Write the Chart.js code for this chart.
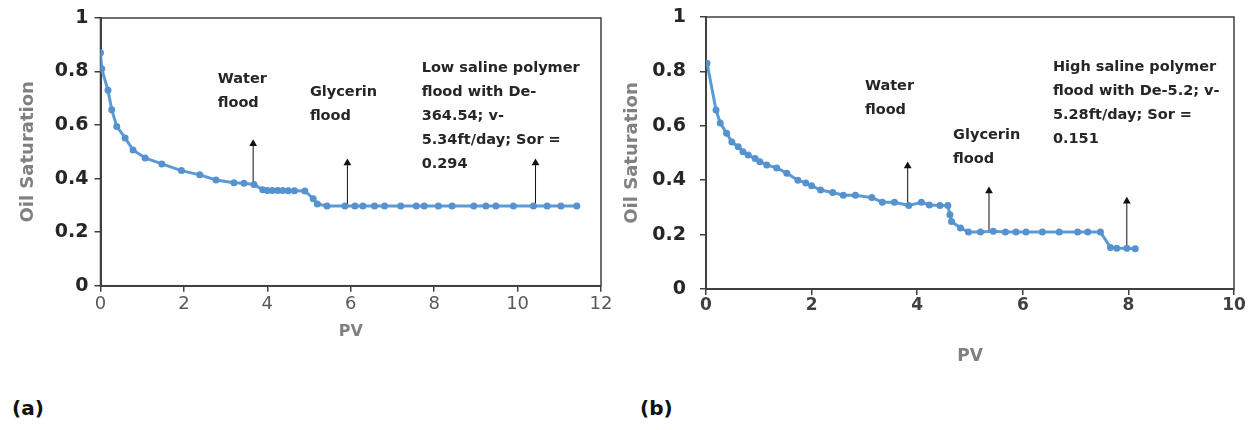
<!DOCTYPE html>
<html>
<head>
<meta charset="utf-8">
<script src="https://cdn.jsdelivr.net/npm/chart.js@4.4.1/dist/chart.umd.min.js"></script>
<style>
  body { margin: 0; width: 1256px; height: 430px; background: #fff; position: relative; overflow: hidden; }
  .box { position: absolute; top: 0; }
  #wrapA { left: 0; width: 615px; height: 350px; }
  #wrapB { left: 610px; width: 640px; height: 370px; }
  .tag { position: absolute; top: 396px; font: bold 20px "DejaVu Sans", sans-serif; color: #111; }
</style>
</head>
<body>
<div class="box" id="wrapA"><canvas id="chartA"></canvas></div>
<div class="box" id="wrapB"><canvas id="chartB"></canvas></div>
<div class="tag" style="left:12px">(a)</div>
<div class="tag" style="left:640px">(b)</div>
<script>
// tick values / labels
const yTickValues = [0, 0.2, 0.4, 0.6, 0.8, 1];
const yTickLabels = ['0', '0.2', '0.4', '0.6', '0.8', '1'];
const xTickValuesA = [0, 2, 4, 6, 8, 10, 12];
const xTickValuesB = [0, 2, 4, 6, 8, 10];

// (a) low saline polymer flood
const pvA = [0, 0.03, 0.18, 0.27, 0.39, 0.59, 0.78, 1.07, 1.47, 1.94, 2.38, 2.77, 3.2, 3.44, 3.68,
  3.89, 4.0, 4.12, 4.25, 4.37, 4.5, 4.65, 4.9, 5.1, 5.2, 5.43, 5.86, 6.1, 6.29, 6.57, 6.81,
  7.2, 7.57, 7.76, 8.1, 8.43, 8.95, 9.24, 9.48, 9.9, 10.38, 10.71, 11.04, 11.42];
const soA = [0.87, 0.81, 0.73, 0.657, 0.595, 0.552, 0.507, 0.477, 0.455, 0.43, 0.414, 0.395, 0.385, 0.383, 0.378,
  0.358, 0.356, 0.356, 0.356, 0.356, 0.355, 0.355, 0.354, 0.325, 0.305, 0.298, 0.298, 0.298, 0.298, 0.298, 0.298,
  0.298, 0.298, 0.298, 0.298, 0.298, 0.298, 0.298, 0.298, 0.298, 0.298, 0.298, 0.298, 0.298];

// (b) high saline polymer flood
const pvB = [0.02, 0.19, 0.27, 0.39, 0.49, 0.61, 0.70, 0.80, 0.93, 1.02, 1.15, 1.34, 1.53, 1.74, 1.89,
  2.0, 2.17, 2.4, 2.6, 2.83, 3.14, 3.34, 3.57, 3.84, 4.08, 4.23, 4.43, 4.58, 4.62, 4.65, 4.82,
  4.97, 5.2, 5.44, 5.67, 5.87, 6.06, 6.37, 6.69, 7.04, 7.23, 7.47, 7.66, 7.78, 7.97, 8.13];
const soB = [0.83, 0.658, 0.61, 0.573, 0.54, 0.523, 0.505, 0.493, 0.48, 0.468, 0.456, 0.445, 0.426, 0.40, 0.39,
  0.38, 0.364, 0.355, 0.345, 0.345, 0.336, 0.319, 0.319, 0.307, 0.319, 0.309, 0.307, 0.307, 0.273, 0.248, 0.224,
  0.21, 0.21, 0.212, 0.21, 0.21, 0.21, 0.21, 0.21, 0.21, 0.21, 0.21, 0.153, 0.15, 0.15, 0.148];

// arrows (PV, saturation at base, saturation at head)
const arrowPvA = [3.66, 5.92, 10.43];
const arrowFromA = [0.377, 0.298, 0.298];
const arrowToA = [0.53, 0.458, 0.458];
const arrowPvB = [3.82, 5.36, 7.97];
const arrowFromB = [0.31, 0.212, 0.15];
const arrowToB = [0.452, 0.36, 0.323];

const notesA = [
  { pv: 2.81, so: 0.773, lines: ['Water', 'flood'] },
  { pv: 5.02, so: 0.724, lines: ['Glycerin', 'flood'] },
  { pv: 7.70, so: 0.814, lines: ['Low saline polymer', 'flood with De-', '364.54; v-', '5.34ft/day; Sor =', '0.294'] }
];
const notesB = [
  { pv: 3.01, so: 0.746, lines: ['Water', 'flood'] },
  { pv: 4.68, so: 0.566, lines: ['Glycerin', 'flood'] },
  { pv: 6.57, so: 0.816, lines: ['High saline polymer', 'flood with De-5.2; v-', '5.28ft/day; Sor =', '0.151'] }
];

const framePlugin = {
  id: 'frame',
  beforeDatasetsDraw(chart) {
    const { ctx, chartArea: a } = chart;
    ctx.save();
    ctx.strokeStyle = '#404040';
    ctx.lineWidth = 1.5;
    ctx.strokeRect(a.left, a.top, a.right - a.left, a.bottom - a.top);
    ctx.restore();
  }
};

function notesPlugin(notes) {
  return {
    id: 'notes',
    afterDatasetsDraw(chart) {
      const { ctx, scales: { x, y } } = chart;
      ctx.save();
      ctx.font = 'bold 14.5px "DejaVu Sans"';
      ctx.fillStyle = '#262626';
      ctx.textBaseline = 'middle';
      notes.forEach(n => {
        const px = x.getPixelForValue(n.pv), py = y.getPixelForValue(n.so);
        n.lines.forEach((t, i) => ctx.fillText(t, px, py + i * 24));
      });
      ctx.restore();
    }
  };
}

// keep chart area where we put it: no extra room for edge labels
function noEdgePad(sc) {
  sc.paddingTop = 0; sc.paddingBottom = 0; sc.paddingLeft = 0; sc.paddingRight = 0;
}

function makeChart(id, s) {
  const datasets = [{
    data: s.pv.map((v, i) => ({ x: v, y: s.so[i] })),
    showLine: true,
    borderColor: '#5B9BD5',
    borderWidth: 3,
    pointRadius: 3.5,
    pointBackgroundColor: '#5592CF',
    pointBorderWidth: 0
  }];
  s.arrowPv.forEach((v, i) => {
    datasets.push({
      data: [{ x: v, y: s.arrowFrom[i] }, { x: v, y: s.arrowTo[i] }],
      showLine: true,
      borderColor: '#111',
      borderWidth: 1,
      pointStyle: 'triangle',
      pointRadius: [0, 4.5],
      pointBackgroundColor: '#111',
      pointBorderWidth: 0
    });
  });

  return new Chart(document.getElementById(id), {
    type: 'scatter',
    data: { datasets },
    plugins: [framePlugin, notesPlugin(s.notes)],
    options: {
      responsive: true,
      maintainAspectRatio: false,
      animation: false,
      layout: { padding: s.pad },
      plugins: { legend: { display: false }, tooltip: { enabled: false } },
      scales: {
        x: {
          type: 'linear', min: 0, max: s.xMax,
          afterBuildTicks: sc => { sc.ticks = s.xTicks.map(v => ({ value: v })); },
          afterFit: sc => { sc.height = s.xAxisH; noEdgePad(sc); },
          grid: { display: true, drawOnChartArea: false, tickLength: 6, color: '#404040', lineWidth: 1.5 },
          border: { display: true, color: '#404040', width: 2 },
          ticks: {
            color: s.xTickColor, padding: s.xTickPad,
            font: { family: 'DejaVu Sans', size: s.xTickSize, weight: s.xTickWeight },
            callback: v => String(v)
          },
          title: {
            display: true, text: 'PV', color: '#808080',
            font: { family: 'DejaVu Sans', size: s.xTitleSize, weight: 'bold' },
            padding: { top: 0, bottom: s.xTitlePad }
          }
        },
        y: {
          type: 'linear', min: 0, max: 1,
          afterBuildTicks: sc => { sc.ticks = yTickValues.map(v => ({ value: v })); },
          afterFit: sc => { sc.width = s.yAxisW; noEdgePad(sc); },
          grid: { display: true, drawOnChartArea: false, tickLength: 6, color: '#404040', lineWidth: 1.5 },
          border: { display: true, color: '#404040', width: 2 },
          ticks: {
            color: '#262626', padding: s.yTickPad,
            font: { family: 'DejaVu Sans', size: 19, weight: 'bold' },
            callback: v => yTickLabels[yTickValues.indexOf(v)]
          },
          title: {
            display: true, text: 'Oil Saturation', color: '#808080',
            font: { family: 'DejaVu Sans', size: 18, weight: 'bold' },
            padding: { top: s.yTitlePad, bottom: 0 }
          }
        }
      }
    }
  });
}

makeChart('chartA', {
  pv: pvA, so: soA, arrowPv: arrowPvA, arrowFrom: arrowFromA, arrowTo: arrowToA, notes: notesA,
  xMax: 12, xTicks: xTickValuesA,
  pad: { top: 18, right: 14, left: 0, bottom: 0 },
  xAxisH: 64.3, yAxisW: 100.5, yTickPad: 6, xTickPad: 2,
  xTickColor: '#595959', xTickSize: 18, xTickWeight: 'normal',
  xTitleSize: 16, xTitlePad: 8.4, yTitlePad: 17.2
});

makeChart('chartB', {
  pv: pvB, so: soB, arrowPv: arrowPvB, arrowFrom: arrowFromB, arrowTo: arrowToB, notes: notesB,
  xMax: 10, xTicks: xTickValuesB,
  pad: { top: 17, right: 16, left: 0, bottom: 0 },
  xAxisH: 81, yAxisW: 96, yTickPad: 14, xTickPad: 0,
  xTickColor: '#404040', xTickSize: 17, xTickWeight: 'bold',
  xTitleSize: 17, xTitlePad: 2.8, yTitlePad: 11.2
});
</script>
</body>
</html>
